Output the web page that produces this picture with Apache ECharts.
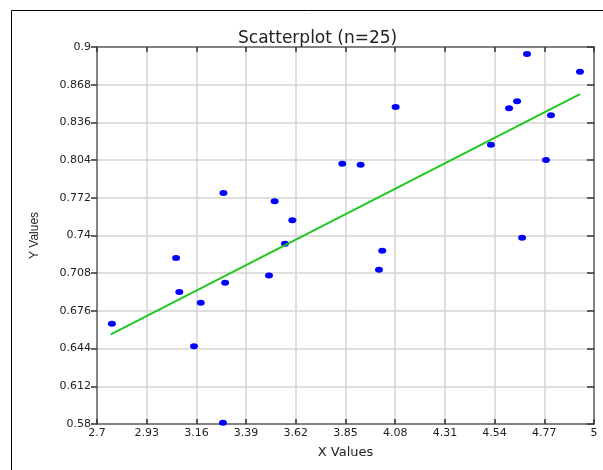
<!DOCTYPE html>
<html>
<head>
<meta charset="utf-8">
<script src="https://cdn.jsdelivr.net/npm/echarts@6/dist/echarts.min.js"></script>
<style>
html, body { margin: 0; padding: 0; background: #fff; }
#main { width: 603px; height: 470px; }
</style>
</head>
<body>
<div id="main"></div>
<script>
// x, y pairs
var xs = [2.769, 3.066, 3.081, 3.149, 3.180, 3.283, 3.293, 3.285, 3.496, 3.522,
          3.570, 3.604, 3.835, 3.920, 4.005, 4.020, 4.082, 4.523, 4.607, 4.644,
          4.667, 4.690, 4.778, 4.801, 4.935];
var ys = [0.665, 0.721, 0.692, 0.646, 0.683, 0.581, 0.700, 0.776, 0.706, 0.769,
          0.733, 0.753, 0.801, 0.800, 0.711, 0.727, 0.849, 0.817, 0.848, 0.854,
          0.738, 0.894, 0.804, 0.842, 0.879];
// fitted line ends
var fitX = [2.764, 4.935];
var fitY = [0.656, 0.860];
var xTicks = [2.7, 2.93, 3.16, 3.39, 3.62, 3.85, 4.08, 4.31, 4.54, 4.77, 5];
var yTicks = [0.58, 0.612, 0.644, 0.676, 0.708, 0.74, 0.772, 0.804, 0.836, 0.868, 0.9];

var pts = [];
for (var i = 0; i < xs.length; i++) {
    pts.push([xs[i], ys[i]]);
}
var fit = [[fitX[0], fitY[0]], [fitX[1], fitY[1]]];

var wide = 'DejaVu Sans, Verdana, sans-serif';
var narrow = 'Liberation Sans, Arial, sans-serif';
var frameColor = '#5a5a5a';
var gridColor = '#d4d4d4';

function axisX(pos, main) {
    return {
        type: 'value', position: pos, min: 2.7, max: 5,
        name: main ? 'X Values' : '', nameLocation: 'middle', nameGap: 22,
        nameTextStyle: { fontFamily: wide, fontSize: 13, color: '#222' },
        axisLine: { show: true, lineStyle: { color: frameColor, width: 1.5 } },
        axisTick: { show: true, inside: true, length: 5, customValues: xTicks,
                    lineStyle: { color: '#333', width: 1.5 } },
        axisLabel: { show: main, customValues: xTicks, margin: 4,
                     fontFamily: wide, fontSize: 11, color: '#222' },
        splitLine: { show: main, showMinLine: false, showMaxLine: false,
                     lineStyle: { color: gridColor, width: 1.5 } }
    };
}
function axisY(pos, main) {
    return {
        type: 'value', position: pos, min: 0.58, max: 0.9,
        name: main ? 'Y Values' : '', nameLocation: 'middle', nameGap: 56, nameRotate: 90,
        nameTextStyle: { fontFamily: narrow, fontSize: 12, color: '#222' },
        axisLine: { show: true, lineStyle: { color: frameColor, width: 1.5 } },
        axisTick: { show: true, inside: !main, length: main ? 6 : 7, customValues: yTicks,
                    lineStyle: { color: '#333', width: 1.5 } },
        axisLabel: { show: main, customValues: yTicks, margin: 6,
                     fontFamily: wide, fontSize: 11, color: '#222' },
        splitLine: { show: main, showMinLine: false, showMaxLine: false,
                     lineStyle: { color: gridColor, width: 1.5 } }
    };
}

var myChart = echarts.init(document.getElementById('main'));
var option = {
    backgroundColor: '#fff',
    animation: false,
    title: {
        text: 'Scatterplot (n=25)',
        left: 233, top: 25,
        textStyle: { fontFamily: wide, fontSize: 17, fontWeight: 'normal', color: '#222' }
    },
    graphic: [{
        type: 'rect',
        shape: { x: 11.5, y: 10.5, width: 700, height: 600 },
        style: { fill: 'none', stroke: '#000', lineWidth: 1 }
    }],
    grid: { left: 97, right: 9, top: 47, bottom: 46 },
    xAxis: [axisX('bottom', true), axisX('top', false)],
    yAxis: [axisY('left', true), axisY('right', false)],
    series: [
        {
            type: 'scatter',
            data: pts,
            symbol: 'circle',
            symbolSize: [8, 6],
            itemStyle: { color: '#0000ff', opacity: 1 },
            z: 3
        },
        {
            type: 'line',
            data: fit,
            symbol: 'none',
            lineStyle: { color: '#1fc81f', width: 2 },
            z: 4
        }
    ]
};
myChart.setOption(option);
</script>
</body>
</html>
